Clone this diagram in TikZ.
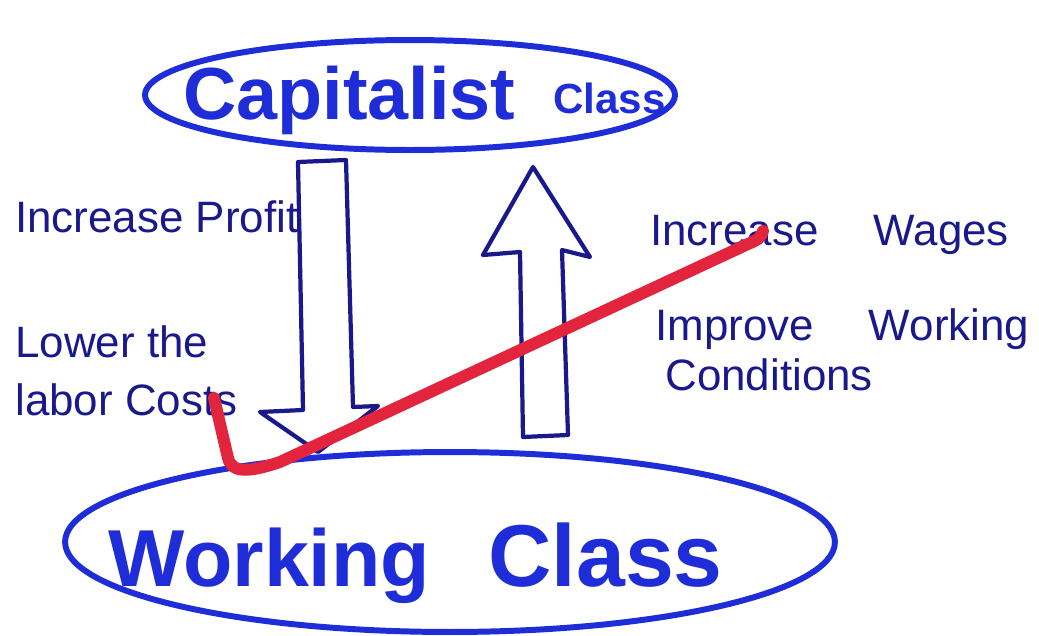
\documentclass[tikz,border=0pt]{standalone}
\usepackage{fontspec}
\setmainfont{Liberation Sans}
\usetikzlibrary{shapes.geometric}
\definecolor{penblue}{RGB}{30,45,215}
\definecolor{inkblue}{RGB}{25,25,140}
\definecolor{markred}{RGB}{226,36,60}
\tikzstyle{classbox}=[ellipse,draw=penblue,line width=3.4pt,inner sep=0pt]
\tikzstyle{bigtext}=[anchor=base west,text=penblue,font=\bfseries,inner sep=0pt]
\tikzstyle{note}=[anchor=base west,text=inkblue,inner sep=0pt,font=\fontsize{25}{30}\selectfont]
\tikzstyle{blockarrow}=[draw=inkblue,line width=2.4pt,line join=round]
\tikzstyle{redmark}=[draw=markred,line width=6.8pt,line cap=round,line join=round]

\begin{document}
\begin{tikzpicture}[x=0.02cm,y=-0.02cm]
    \useasboundingbox (0,0) rectangle (1039,636);
    \node[classbox,minimum width=10.6cm,minimum height=2.2cm] (capital) at (410,95) {};
    \node[classbox,minimum width=15.4cm,minimum height=3.6cm] (working) at (450,542) {};

    \node[bigtext] (capname) at (183,119) {\fontsize{42}{48}\selectfont Capitalist};
    \node[bigtext] (capclass) at (553,113) {\fontsize{24}{29}\selectfont Class};
    \node[bigtext] (workname) at (108,586) {\fontsize{46}{54}\selectfont Working};
    \node[bigtext] (workclass) at (488,586) {\fontsize{50}{58}\selectfont Class};

    % block arrows between the classes
    \draw[blockarrow] (298,162) -- (346,160) -- (353,407) -- (378,406) -- (318,452)
        -- (260,412) -- (303,410) -- cycle;
    \draw[blockarrow] (523,437) -- (568,435) -- (562,250) -- (590,257) -- (533,167)
        -- (483,255) -- (520,252) -- cycle;

    \node[note] (profit) at (15,232) {Increase Profit};
    \node[note] (lower) at (15,357) {Lower the};
    \node[note] (labor) at (15,415) {labor Costs};
    \node[note] (wages) at (650,245) {Increase\hspace{1.1cm}Wages};
    \node[note] (improve) at (655,340) {Improve\hspace{1.1cm}Working};
    \node[note] (cond) at (665,390) {Conditions};

    \draw[redmark] (214,398) -- (228,458) .. controls (232,474) and (250,472) .. (280,462)
        -- (748,244) .. controls (758,240) and (762,236) .. (763,231);
\end{tikzpicture}
\end{document}
